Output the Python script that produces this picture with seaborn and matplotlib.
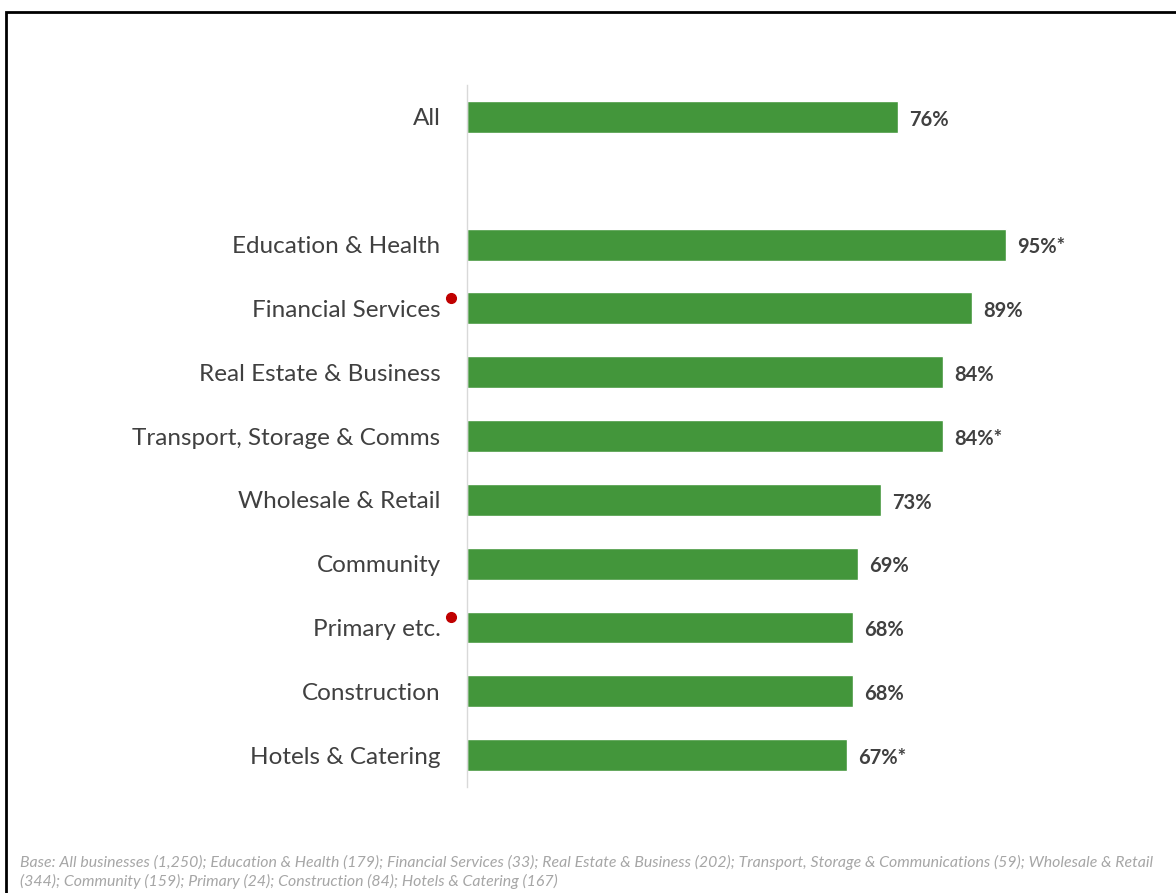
import matplotlib
matplotlib.use("Agg")
import matplotlib.pyplot as plt
import seaborn as sns
import pandas as pd
from matplotlib.patches import Rectangle

# Share of businesses by sector (blank row separates the overall figure)
categories = ["All", " ", "Education & Health", "Financial Services",
              "Real Estate & Business", "Transport, Storage & Comms",
              "Wholesale & Retail", "Community", "Primary etc.",
              "Construction", "Hotels & Catering"]
values = [76, None, 95, 89, 84, 84, 73, 69, 68, 68, 67]
value_labels = ["76%", "", "95%*", "89%", "84%", "84%*", "73%", "69%",
                "68%", "68%", "67%*"]
flagged = ["Financial Services", "Primary etc."]
footnote = ("Base: All businesses (1,250); Education & Health (179); Financial Services (33); "
            "Real Estate & Business (202); Transport, Storage & Communications (59); Wholesale & Retail\n"
            "(344); Community (159); Primary (24); Construction (84); Hotels & Catering (167)")

sns.set_theme(style="white")
plt.rcParams["font.family"] = ["Lato", "DejaVu Sans"]

BAR = "#43963B"
TEXT = "#404040"

df = pd.DataFrame({"sector": categories, "pct": values})

fig = plt.figure(figsize=(11.76, 8.93), dpi=100)
ax = fig.add_axes([0.3971, 0.1187, 0.5306, 0.7861])

sns.barplot(data=df, x="pct", y="sector", order=categories, color=BAR,
            width=0.5, saturation=1, ax=ax, orient="h")

ax.set_xlim(0, 110)
ax.set_ylim(10.5, -0.5)
ax.set_xlabel("")
ax.set_ylabel("")
ax.set_xticks([])
for s in ["top", "right", "bottom"]:
    ax.spines[s].set_visible(False)
ax.spines["left"].set_color("#D9D9D9")
ax.spines["left"].set_linewidth(1)
ax.tick_params(axis="y", length=0, pad=19, labelsize=17.5, labelcolor=TEXT)

# Value labels at bar ends
for i, (v, lab) in enumerate(zip(values, value_labels)):
    if v is None:
        continue
    ax.annotate(lab, xy=(v, i), xytext=(8, -2), textcoords="offset points",
                ha="left", va="center", fontsize=14.5, fontweight="bold", color=TEXT)

# Red markers next to flagged sector names
ytrans = ax.get_yaxis_transform()
for name in flagged:
    i = categories.index(name)
    ax.plot([-16 / (0.5306 * 1176)], [i - 0.17], marker="o", markersize=7,
            color="#C00000", transform=ytrans, clip_on=False)

# Footnote
fig.text(20 / 1176, 1 - 855 / 893, footnote, ha="left", va="top", fontsize=11.4,
         style="italic", color="#A6A6A6", linespacing=1.35)

# Frame around the slide
fig.patches.append(Rectangle((6 / 1176, -0.1), 1.2, 1 - 12 / 893 + 0.1,
                             transform=fig.transFigure, fill=False,
                             edgecolor="black", linewidth=2))

fig.savefig("out.png", dpi=100)
